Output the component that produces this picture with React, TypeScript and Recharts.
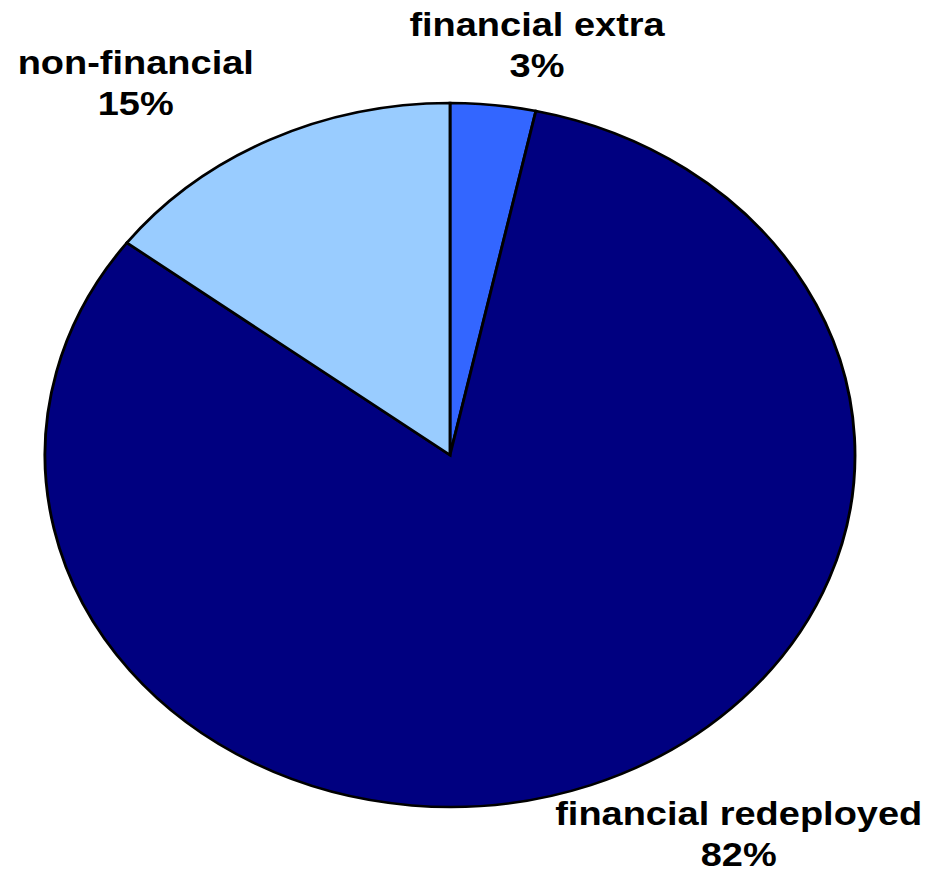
import { PieChart, Pie, Cell } from "recharts";

// slices, clockwise from 12 o'clock (labels show rounded shares)
const names = ["financial extra", "financial redeployed", "non-financial"];
const shares = [3.4, 81.9, 14.7];
const colors = ["#3366FF", "#000080", "#99CCFF"];

const data = names.map((name, i) => ({ name, value: shares[i] }));

// the original is a circle stretched sideways (ellipse 405 x 352)
const STRETCH = 405 / 352;
const W = 943;
const H = 869;

// label placement along the slice mid-angle: radius + horizontal nudge
const labelPlace = [
  { r: 400, shift: 33 },
  { r: 417, shift: 106 },
  { r: 402, shift: -94 },
];

const renderLabel = (p: any) => {
  const RAD = Math.PI / 180;
  const place = labelPlace[p.index];
  const x = p.cx + place.r * Math.cos(-p.midAngle * RAD) + place.shift;
  const y = p.cy + place.r * Math.sin(-p.midAngle * RAD);
  return (
    <text
      x={x}
      y={y}
      textAnchor="middle"
      fill="#000"
      fontFamily="'Liberation Sans', Arial, sans-serif"
      fontWeight="bold"
      fontSize={33}
    >
      <tspan x={x} dy={-21}>{p.name}</tspan>
      <tspan x={x} dy={41}>{`${Math.round(p.value)}%`}</tspan>
    </text>
  );
};

export default function App() {
  return (
    <div style={{ position: "absolute", left: 0, top: 0, width: W, height: H, overflow: "hidden", background: "#fff" }}>
      <div style={{ transform: `scaleX(${STRETCH})`, transformOrigin: "0 0", width: W / STRETCH }}>
        <PieChart
          width={W / STRETCH}
          height={H}
          margin={{ top: 0, right: 0, bottom: 0, left: 0 }}
          style={{ overflow: "visible" }}
        >
          <Pie
            data={data}
            dataKey="value"
            nameKey="name"
            cx={450 / STRETCH}
            cy={455}
            outerRadius={352}
            startAngle={90}
            endAngle={-270}
            stroke="#000"
            strokeWidth={2.5}
            label={renderLabel}
            labelLine={false}
            isAnimationActive={false}
          >
            {data.map((d, i) => (
              <Cell key={d.name} fill={colors[i]} />
            ))}
          </Pie>
        </PieChart>
      </div>
    </div>
  );
}
